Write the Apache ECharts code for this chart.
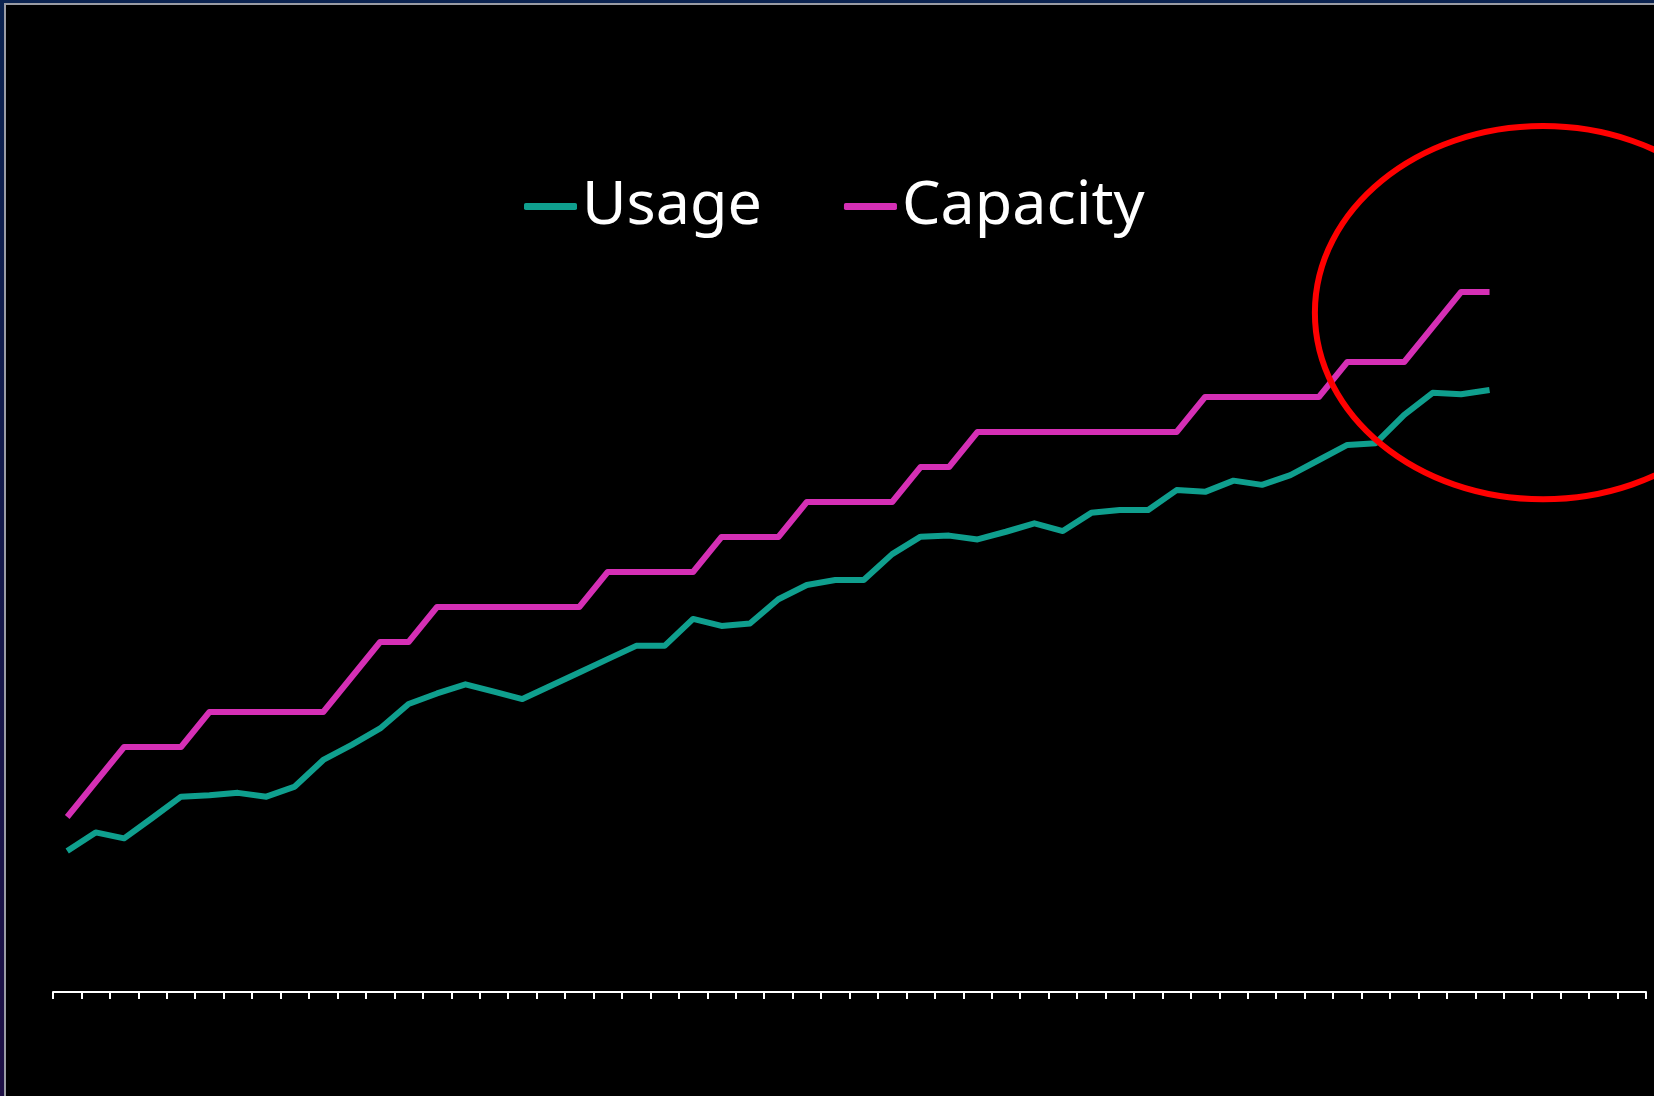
<!DOCTYPE html>
<html>
<head>
<meta charset="utf-8">
<script src="https://cdn.jsdelivr.net/npm/echarts@6/dist/echarts.min.js"></script>
<style>
  html, body { margin: 0; padding: 0; width: 1654px; height: 1096px; overflow: hidden; }
  body { background: linear-gradient(to bottom, #0b2350, #1e1046); }
  #frame { position: absolute; left: 4px; top: 3px; right: 0; bottom: 0; background: #000;
           border-left: 2px solid #9a9ca4; border-top: 2px solid #9a9ca4; }
  #chart { position: absolute; left: 0; top: 0; width: 1654px; height: 1096px; }
</style>
</head>
<body>
<div id="frame"></div>
<div id="chart"></div>
<script>
// ---- data ----
const categoryCount = 56;
const categories = Array.from({ length: categoryCount }, (_, i) => String(i + 1));
const usage = [40.3, 45.6, 43.9, 49.8, 55.8, 56.2, 56.9, 55.8, 58.7, 66.3,
               70.6, 75.3, 82.3, 85.3, 87.9, 85.8, 83.7, 87.5, 91.3, 95.1,
               98.9, 98.9, 106.6, 104.6, 105.3, 112.2, 116.3, 117.7, 117.7, 125.1,
               130.1, 130.4, 129.3, 131.5, 133.9, 131.7, 136.9, 137.7, 137.7, 143.4,
               142.9, 146.1, 144.9, 147.7, 152.0, 156.3, 156.8, 164.9, 171.2, 170.8,
               172.0];
const capacity = [50, 60, 70, 70, 70, 80, 80, 80, 80, 80,
                  90, 100, 100, 110, 110, 110, 110, 110, 110, 120,
                  120, 120, 120, 130, 130, 130, 140, 140, 140, 140,
                  150, 150, 160, 160, 160, 160, 160, 160, 160, 160,
                  170, 170, 170, 170, 170, 180, 180, 180, 190, 200,
                  200];
const seriesNames = ['Usage', 'Capacity'];
// highlight annotation (in axis units: category index, value)
const highlightCenter = [51.88, 194.1];
const highlightRadius = [8.02, 53.3];

const chart = echarts.init(document.getElementById('chart'), null, { renderer: 'canvas' });
const option = {
  backgroundColor: 'transparent',
  animation: false,
  legend: {
    data: seriesNames,
    left: 519,
    top: 171,
    icon: 'roundRect',
    itemWidth: 53,
    itemHeight: 7,
    itemGap: 82,
    textStyle: { color: '#ffffff', fontSize: 61, fontFamily: 'Noto Sans' }
  },
  grid: { left: 53, right: 8, top: 292, bottom: 104, containLabel: false },
  xAxis: {
    type: 'category',
    data: categories,
    boundaryGap: true,
    axisLine: { show: true, lineStyle: { color: '#ffffff', width: 2 } },
    axisTick: { show: true, interval: 0, length: 7, lineStyle: { color: '#ffffff', width: 2 } },
    axisLabel: { show: false },
    splitLine: { show: false }
  },
  yAxis: {
    type: 'value',
    min: 0,
    max: 200,
    show: false,
    splitLine: { show: false }
  },
  series: [
    {
      name: seriesNames[0], type: 'line', data: usage, symbol: 'none',
      color: '#0f9f8e',
      lineStyle: { color: '#0f9f8e', width: 6, join: 'round' }
    },
    {
      name: seriesNames[1], type: 'line', data: capacity, symbol: 'none',
      color: '#d52fb5',
      lineStyle: { color: '#d52fb5', width: 6, join: 'round' }
    }
  ]
};
chart.setOption(option);

const p0 = chart.convertToPixel({ gridIndex: 0 }, [0, 0]);
const p1 = chart.convertToPixel({ gridIndex: 0 }, [1, 100]);
const pxPerCat = p1[0] - p0[0];
const pxPerUnit = (p0[1] - p1[1]) / 100;
chart.setOption({
  graphic: [{
    type: 'ellipse',
    silent: true,
    z: 100,
    shape: {
      cx: p0[0] + highlightCenter[0] * pxPerCat,
      cy: p0[1] - highlightCenter[1] * pxPerUnit,
      rx: highlightRadius[0] * pxPerCat,
      ry: highlightRadius[1] * pxPerUnit
    },
    style: { fill: null, stroke: '#ff0000', lineWidth: 6 }
  }]
});
</script>
</body>
</html>
